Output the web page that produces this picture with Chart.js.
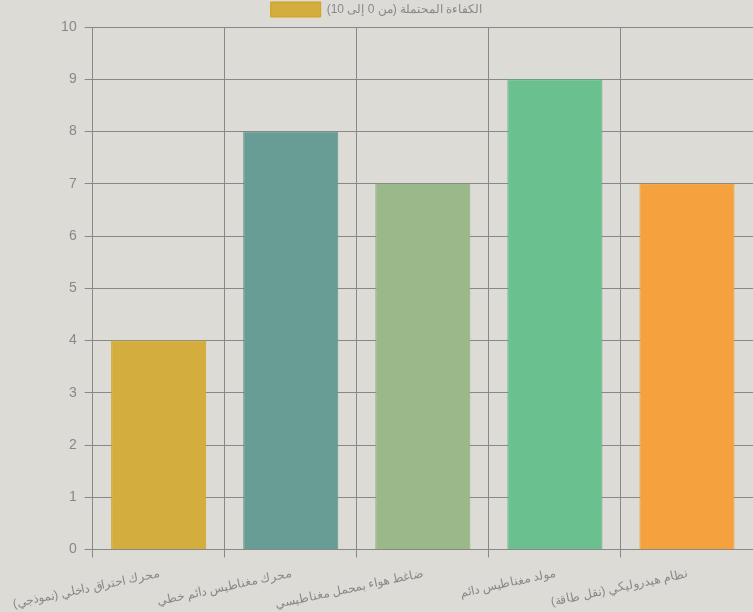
<!DOCTYPE html>
<html lang="ar">
<head>
<meta charset="UTF-8">
<script src="https://cdn.jsdelivr.net/npm/chart.js"></script>
<style>
    html, body { margin: 0; padding: 0; background: #dcdbd6; }
    #wrap { width: 753px; height: 612px; }
</style>
</head>
<body>
<div id="wrap"><canvas id="grafico"></canvas></div>
<script>
    var categorias = [
        'محرك احتراق داخلي (نموذجي)',
        'محرك مغناطيس دائم خطي',
        'ضاغط هواء بمحمل مغناطيسي',
        'مولد مغناطيس دائم',
        'نظام هيدروليكي (نقل طاقة)'
    ];
    var eficiencia = [4, 8, 7, 9, 7];
    var rotulo = 'الكفاءة المحتملة (من 0 إلى 10)';
    var coresFundo = ['#d3ad3e', '#679d94', '#9bb88a', '#6bc08f', '#f5a23e'];
    var coresBorda = ['#d19f1a', '#5d9488', '#86b070', '#58b47e', '#f39a2a'];

    Chart.defaults.font.family = 'Arial, "Liberation Sans", sans-serif';
    Chart.defaults.color = '#888';

    new Chart(document.getElementById('grafico'), {
        type: 'bar',
        data: {
            labels: categorias,
            datasets: [{
                label: rotulo,
                data: eficiencia,
                backgroundColor: coresFundo,
                borderColor: coresBorda,
                borderWidth: 1
            }]
        },
        options: {
            responsive: true,
            maintainAspectRatio: false,
            animation: false,
            layout: { padding: { bottom: -9 } },
            plugins: {
                legend: {
                    labels: { boxWidth: 50, boxHeight: 15, padding: 2, font: { size: 12 } }
                }
            },
            scales: {
                y: {
                    min: 0,
                    max: 10,
                    ticks: { stepSize: 1, font: { size: 14 }, padding: 8 },
                    grid: { color: '#888' },
                    border: { color: '#888' }
                },
                x: {
                    ticks: { font: { size: 12 }, minRotation: 12, maxRotation: 12, padding: 9 },
                    grid: { color: '#888' },
                    border: { color: '#888' }
                }
            }
        }
    });
</script>
</body>
</html>
